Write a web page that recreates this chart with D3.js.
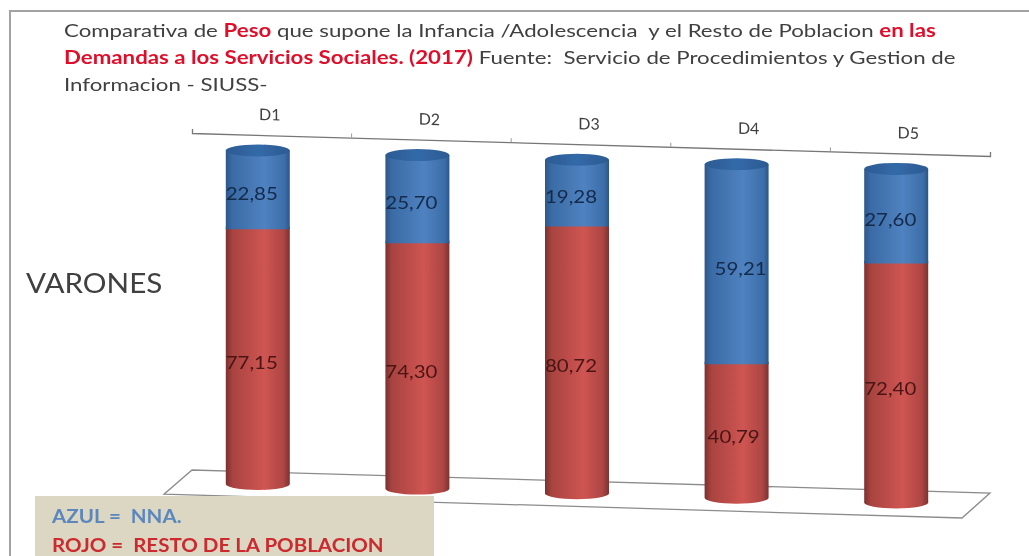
<!DOCTYPE html>
<html>
<head>
<meta charset="utf-8">
<script src="https://cdn.jsdelivr.net/npm/d3@7"></script>
<style>
  html, body { margin: 0; padding: 0; background: #fff; }
  svg { display: block; }
  text { font-family: Lato, "Open Sans", sans-serif; }
</style>
</head>
<body>
<svg width="1029" height="556"></svg>
<script>
// values
const categories = ["D1", "D2", "D3", "D4", "D5"];
const nna   = [22.85, 25.70, 19.28, 59.21, 27.60];
const resto = [77.15, 74.30, 80.72, 40.79, 72.40];
const labelsNna   = ["22,85", "25,70", "19,28", "59,21", "27,60"];
const labelsResto = ["77,15", "74,30", "80,72", "40,79", "72,40"];

// title lines, [text, is red]
const titleLines = [
  [["Comparativa de ", false], ["Peso", true], [" que supone la Infancia /Adolescencia  y el Resto de Poblacion ", false], ["en las", true]],
  [["Demandas a los Servicios Sociales. (2017)", true], [" Fuente:  Servicio de Procedimientos y Gestion de", false]],
  [["Informacion - SIUSS-", false]]
];
const legendLines = [
  ["AZUL =  NNA.", "#5b87bd"],
  ["ROJO =  RESTO DE LA POBLACION", "#cc2a2e"]
];

var svg = d3.select("svg"),
    width = +svg.attr("width"),
    height = +svg.attr("height");

const defs = svg.append("defs");

// the source is a soft, horizontally stretched screenshot
defs.append("filter").attr("id", "soft")
  .attr("x", "-2%").attr("y", "-2%").attr("width", "104%").attr("height", "104%")
  .append("feGaussianBlur").attr("stdDeviation", 0.7);

function cylGradient(id, stops) {
  const g = defs.append("linearGradient").attr("id", id);
  stops.forEach(s => g.append("stop").attr("offset", s[0]).attr("stop-color", s[1]));
}
cylGradient("blue", [[0, "#2c578a"], [0.1, "#3a6ba5"], [0.6, "#4f82c0"], [0.92, "#3c6ea9"], [1, "#2b5688"]]);
cylGradient("red",  [[0, "#7a302e"], [0.1, "#a84340"], [0.6, "#cf5552"], [0.9, "#ad4643"], [1, "#7c3230"]]);
cylGradient("cap",  [[0, "#2c5a92"], [0.5, "#336aa8"], [1, "#2c5a92"]]);

const root = svg.append("g").attr("filter", "url(#soft)");

// frame, only top and left show in the crop
root.append("rect")
  .attr("x", 10).attr("y", 11)
  .attr("width", width + 20).attr("height", height + 20)
  .attr("fill", "#fff")
  .attr("stroke", "#a3a3a3").attr("stroke-width", 2);

//--- Scales ----//
const axisLeft = 192, axisRight = 990, axisTop = 133;
const tilt = 0.0288;                 // the whole plot leans down to the right
const depthX = 28, depthY = 25;      // floor depth of the fake 3d
const rx = 32, ry = 6;

const xScale = d3.scaleBand().domain(categories).range([0, axisRight - axisLeft]);
const yScale = d3.scaleLinear().domain([0, 100]).range([351, 17.5]);

const tiltY = x => tilt * x;
const cylX = d => xScale(d) + xScale.bandwidth() / 2 - 14;   // cylinders sit forward of the axis
const plot = root.append("g").attr("transform", "translate(" + axisLeft + "," + axisTop + ")");

//--- Floor ----//
const w = axisRight - axisLeft, floorY = 337;
plot.append("path")
  .attr("d", "M0," + floorY
    + "L" + w + "," + (floorY + tiltY(w))
    + "L" + (w - depthX) + "," + (floorY + tiltY(w) + depthY)
    + "L" + (-depthX) + "," + (floorY + depthY - tiltY(depthX)) + "Z")
  .attr("fill", "#fff").attr("stroke", "#8c8c8c").attr("stroke-width", 1.3);

//--- Axis ----//
const axisG = plot.append("g")
  .attr("transform", "skewY(" + (Math.atan(tilt) * 180 / Math.PI) + ")")
  .call(d3.axisTop(xScale).tickSize(0).tickSizeOuter(4).tickPadding(15));
axisG.select(".domain").attr("stroke", "#777").attr("stroke-width", 1.3);
axisG.selectAll("text")
  .attr("font-size", 16).attr("fill", "#404040")
  .attr("dx", -2)
  .style("font-family", "Lato, sans-serif");
axisG.selectAll(".bound")
  .data(categories.slice(1))
  .enter().append("line").attr("class", "bound")
  .attr("x1", d => xScale(d)).attr("x2", d => xScale(d))
  .attr("y1", 0).attr("y2", -4)
  .attr("stroke", "#999");

//--- Cylinders ----//
const stacked = d3.stack().keys(["resto", "nna"])(
  categories.map((c, i) => ({ cat: c, resto: resto[i], nna: nna[i] }))
);

const cyl = plot.selectAll(".cyl")
  .data(categories)
  .enter().append("g")
  .attr("class", "cyl")
  .attr("transform", d => "translate(" + cylX(d) + "," + tiltY(cylX(d) - cylX(categories[0])) + ")");

// red body, rounded at the foot
cyl.append("path")
  .attr("d", (d, i) => {
    const y0 = yScale(stacked[0][i][0]), y1 = yScale(stacked[0][i][1]);
    return "M" + (-rx) + "," + y1 + "V" + y0 + "A" + rx + "," + ry + " 0 0 0 " + rx + "," + y0 + "V" + y1 + "Z";
  })
  .attr("fill", "url(#red)");

// blue body sits on the red one, seam is nearly flat in the source
cyl.append("path")
  .attr("d", (d, i) => {
    const y0 = yScale(stacked[1][i][0]) + 2.5, y1 = yScale(stacked[1][i][1]);
    return "M" + (-rx) + "," + y1 + "V" + y0 + "H" + rx + "V" + y1 + "Z";
  })
  .attr("fill", "url(#blue)");

cyl.append("ellipse")
  .attr("cx", 0).attr("cy", yScale(100))
  .attr("rx", rx).attr("ry", ry)
  .attr("fill", "url(#cap)");

// value labels, the D4 ones were dragged off centre in the source
const labelX = (d, base) => d == "D4" ? base : -6;
cyl.append("text")
  .attr("transform", (d, i) => "translate(" + labelX(d, 4) + "," + (yScale((stacked[1][i][0] + stacked[1][i][1]) / 2) + 11.5) + ") scale(1.17,1)")
  .attr("text-anchor", "middle")
  .attr("font-size", 17.5).attr("fill", "#12294a")
  .text((d, i) => labelsNna[i]);
cyl.append("text")
  .attr("transform", (d, i) => "translate(" + labelX(d, -3) + "," + (yScale((stacked[0][i][0] + stacked[0][i][1]) / 2) + 13.5) + ") scale(1.17,1)")
  .attr("text-anchor", "middle")
  .attr("font-size", 17.5).attr("fill", "#4a1413")
  .text((d, i) => labelsResto[i]);

//--- Title ----//
const title = root.append("text")
  .attr("transform", "translate(64,0) scale(1.237,1)")
  .attr("font-size", 18).attr("fill", "#404040");
titleLines.forEach((line, i) => {
  line.forEach((part, j) => {
    const t = title.append("tspan")
      .attr("fill", part[1] ? "#e0112b" : "#404040")
      .attr("font-weight", part[1] ? 700 : 400)
      .style("white-space", "pre")
      .text(part[0]);
    if (j == 0) t.attr("x", 0).attr("y", 37 + i * 27);
  });
});

root.append("text")
  .attr("transform", "translate(26,293) scale(1.097,1)")
  .attr("font-size", 27).attr("fill", "#404040")
  .text("VARONES");

//--- Legend ----//
root.append("rect")
  .attr("x", 35).attr("y", 496)
  .attr("width", 399).attr("height", 70)
  .attr("fill", "#dbd7c3");
root.selectAll(".legend")
  .data(legendLines)
  .enter().append("text")
  .attr("class", "legend")
  .attr("transform", (d, i) => "translate(52," + (523 + i * 28.5) + ") scale(1.14,1)")
  .attr("font-size", 18).attr("font-weight", 700)
  .attr("fill", d => d[1])
  .style("white-space", "pre")
  .text(d => d[0]);
</script>
</body>
</html>
